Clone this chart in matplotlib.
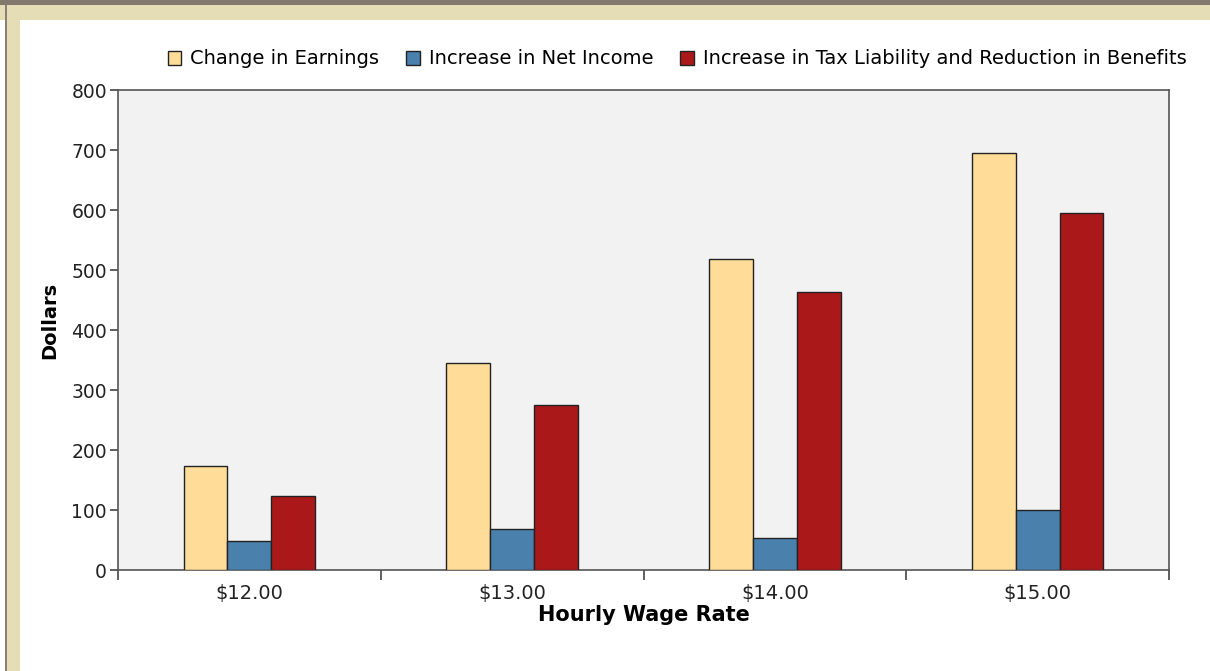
import numpy as np
import matplotlib
matplotlib.use('Agg')
from matplotlib import pyplot as plt
from matplotlib.patches import Rectangle

wages = ['$12.00', '$13.00', '$14.00', '$15.00']
earnings = [173, 345, 518, 695]
net_income = [48, 68, 53, 100]
tax_benefits = [123, 275, 463, 595]

series_names = ['Change in Earnings', 'Increase in Net Income',
                'Increase in Tax Liability and Reduction in Benefits']
colors = ['#ffdd99', '#4a80ac', '#ab1819']

W, H = 1210, 671
fig = plt.figure(figsize=(W / 100, H / 100), dpi=100)
fig.patch.set_facecolor('white')


def px_rect(x0, y0, x1, y1, color):
    # rectangle in pixel coords, y measured from top
    fig.patches.append(Rectangle((x0 / W, 1 - y1 / H), (x1 - x0) / W, (y1 - y0) / H,
                                 transform=fig.transFigure, facecolor=color,
                                 edgecolor='none', zorder=0))


# page frame
px_rect(0, 5, W, 20, '#e4ddb6')
px_rect(7, 5, 20, H, '#e4ddb6')
px_rect(5, 5, 7, H, '#8a8076')
px_rect(0, 0, W, 5, '#82786c')

ax = fig.add_axes([118 / W, 1 - 570 / H, (1169 - 118) / W, (570 - 90) / H])
ax.set_facecolor('#f2f2f2')

x = np.arange(len(wages))
bw = 0.5 / 3
data = [earnings, net_income, tax_benefits]
for i, vals in enumerate(data):
    ax.bar(x + (i - 1) * bw, vals, width=bw, color=colors[i], edgecolor='#222222',
           linewidth=1.0, label=series_names[i], zorder=3)

ax.set_xlim(-0.5, len(wages) - 0.5)
ax.set_ylim(0, 800)
ax.set_yticks(np.arange(0, 801, 100))
ax.set_xticks(np.arange(-0.5, len(wages), 1.0))
ax.set_xticklabels([])
ax.set_xticks(x, minor=True)
ax.set_xticklabels(wages, minor=True)
ax.tick_params(axis='x', which='minor', length=0, labelsize=14, pad=10, colors='#222222')
ax.tick_params(axis='x', which='major', length=7, width=1.2, color='#444444')
ax.tick_params(axis='y', length=6, width=1.2, color='#444444', labelsize=13.5, pad=2,
               labelcolor='#222222')
for s in ax.spines.values():
    s.set_color('#555555')
    s.set_linewidth(1.2)

ax.set_ylabel('Dollars', fontsize=14, fontweight='bold')
ax.yaxis.set_label_coords(-0.056, 0.52)
ax.set_xlabel('Hourly Wage Rate', fontsize=15, fontweight='bold')
ax.xaxis.set_label_coords(0.5, -0.094)
ax.xaxis.label.set_va('center')

fig.legend(loc='center', bbox_to_anchor=(677 / W, 1 - 59 / H), ncol=3, frameon=False,
           fontsize=14, handlelength=0.7, handleheight=0.7, handletextpad=0.45,
           columnspacing=1.4, borderpad=0)

fig.savefig('out.png', dpi=100)
